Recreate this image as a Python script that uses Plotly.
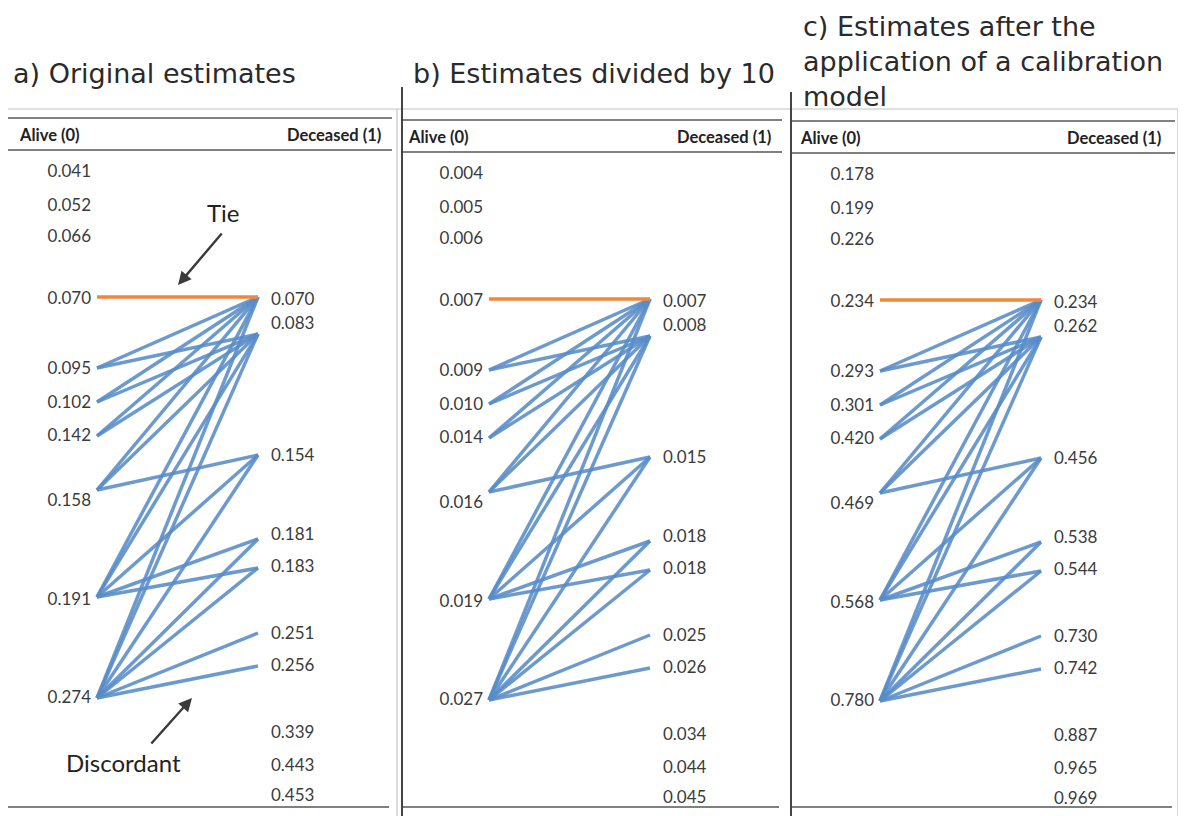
import plotly.graph_objects as go

# ---------------- data ----------------
PANEL_TITLES = [
    ["a) Original estimates"],
    ["b) Estimates divided by 10"],
    ["c) Estimates after the", "application of a calibration", "model"],
]
HEADER_ALIVE = "Alive (0)"
HEADER_DECEASED = "Deceased (1)"

ALIVE_A = [0.041, 0.052, 0.066, 0.070, 0.095, 0.102, 0.142, 0.158, 0.191, 0.274]
DECEASED_A = [0.070, 0.083, 0.154, 0.181, 0.183, 0.251, 0.256, 0.339, 0.443, 0.453]

ALIVE_B = [0.004, 0.005, 0.006, 0.007, 0.009, 0.010, 0.014, 0.016, 0.019, 0.027]
DECEASED_B = [0.007, 0.008, 0.015, 0.018, 0.018, 0.025, 0.026, 0.034, 0.044, 0.045]

ALIVE_C = [0.178, 0.199, 0.226, 0.234, 0.293, 0.301, 0.420, 0.469, 0.568, 0.780]
DECEASED_C = [0.234, 0.262, 0.456, 0.538, 0.544, 0.730, 0.742, 0.887, 0.965, 0.969]

# ---------------- layout constants (row placement of the table) ----------------
W, H = 1186, 816
PAGE_MARGIN = 8  # default body margin of the html page
ALIVE_LABEL_Y = [173, 207, 238, 300, 370, 404, 437, 502, 601, 699]
ALIVE_END_Y = [173, 207, 238, 297, 368, 402, 436, 490, 597, 698]
DEC_LABEL_Y = [301, 325, 457, 536, 568, 635, 667, 734, 767, 797]
DEC_END_Y = [297, 334, 455, 539, 568, 633, 666, 734, 767, 797]
PANEL_DX = [0, 392, 783]
PANEL_DY = [0, 2, 3]
ALIVE_LABEL_X = 91
ALIVE_END_X = 97
DEC_END_X = 258
DEC_LABEL_X = 271

BLUE = "rgba(88,140,200,0.88)"
ORANGE = "#f2873a"
TXT = "#3b3b3b"
FONT = "Lato"
TITLE_FONT = "DejaVu Sans"

fig = go.Figure()

panels = [(ALIVE_A, DECEASED_A), (ALIVE_B, DECEASED_B), (ALIVE_C, DECEASED_C)]
for p, (alive, dec) in enumerate(panels):
    dx, dy = PANEL_DX[p], PANEL_DY[p]
    bx, by, tx, ty = [], [], [], []
    for i, a in enumerate(alive):
        for j, d in enumerate(dec):
            x0, y0 = dx + ALIVE_END_X, ALIVE_END_Y[i] + dy
            x1, y1 = dx + DEC_END_X, DEC_END_Y[j] + dy
            if a > d:
                bx += [x0, x1, None]
                by += [y0, y1, None]
            elif a == d:
                tx += [x0, x1, None]
                ty += [y0, y1, None]
    fig.add_trace(go.Scatter(x=bx, y=by, mode="lines",
                             line=dict(color=BLUE, width=3.5), hoverinfo="skip"))
    fig.add_trace(go.Scatter(x=tx, y=ty, mode="lines",
                             line=dict(color=ORANGE, width=3.5), hoverinfo="skip"))
    # value labels
    fig.add_trace(go.Scatter(
        x=[dx + ALIVE_LABEL_X] * len(alive),
        y=[v + dy for v in ALIVE_LABEL_Y],
        mode="text", text=[f"{v:.3f}" for v in alive],
        textposition="middle left",
        textfont=dict(family=FONT, size=17, color=TXT), hoverinfo="skip"))
    fig.add_trace(go.Scatter(
        x=[dx + DEC_LABEL_X] * len(dec),
        y=[v + dy for v in DEC_LABEL_Y],
        mode="text", text=[f"{v:.3f}" for v in dec],
        textposition="middle right",
        textfont=dict(family=FONT, size=17, color=TXT), hoverinfo="skip"))
    # headers
    fig.add_annotation(x=dx + 17 - (3 if p == 1 else 0) - (2 if p == 2 else 0), y=135 + dy,
                       text=f"<b>{HEADER_ALIVE}</b>", showarrow=False,
                       xanchor="left", yanchor="middle",
                       font=dict(family=FONT, size=16.5, color="#222"))
    fig.add_annotation(x=dx + 383 - (2 if p == 1 else 0) - (3 if p == 2 else 0), y=135 + dy,
                       text=f"<b>{HEADER_DECEASED}</b>", showarrow=False,
                       xanchor="right", yanchor="middle",
                       font=dict(family=FONT, size=16.5, color="#222"))

# table rules
RULES = [(8, 392), (403, 782), (792, 1175)]
for p, (x0, x1) in enumerate(RULES):
    for yy in (118, 150):
        fig.add_shape(type="line", x0=x0, x1=x1, y0=yy + PANEL_DY[p], y1=yy + PANEL_DY[p],
                      line=dict(color="#808080", width=2))
    fig.add_shape(type="line", x0=x0, x1=x1 - 3, y0=807, y1=807,
                  line=dict(color="#808080", width=2))

# thin frame lines
fig.add_shape(type="line", x0=0, x1=1178, y0=109, y1=109, line=dict(color="#c4c4c4", width=1.2))
fig.add_shape(type="line", x0=397, x1=397, y0=109, y1=H, line=dict(color="#c4c4c4", width=1.2))
fig.add_shape(type="line", x0=1178, x1=1178, y0=109, y1=H, line=dict(color="#c4c4c4", width=1.2))
# dark separators
fig.add_shape(type="line", x0=402, x1=402, y0=87, y1=H, line=dict(color="#444", width=2))
fig.add_shape(type="line", x0=791, x1=791, y0=92, y1=H, line=dict(color="#444", width=2))

# panel titles (multi-line titles as one text block)
TITLE_X = [11, 411, 801]
TITLE_Y = [73, 73, 61]
for p, lines in enumerate(PANEL_TITLES):
    fig.add_annotation(x=TITLE_X[p], y=TITLE_Y[p], text="<br>".join(lines), showarrow=False,
                       xanchor="left", yanchor="middle", align="left",
                       font=dict(family=TITLE_FONT, size=27, color="#2a2a2a"))

# callouts
fig.add_annotation(x=178, y=285, ax=223, ay=232, axref="x", ayref="y", xref="x", yref="y",
                   showarrow=True, arrowhead=2, arrowsize=1.1, arrowwidth=2.4,
                   arrowcolor="#3a3a3a", text="")
fig.add_annotation(x=223, y=212, text="Tie", showarrow=False,
                   font=dict(family=FONT, size=24, color="#222"))
fig.add_annotation(x=192, y=698, ax=150, ay=745, axref="x", ayref="y", xref="x", yref="y",
                   showarrow=True, arrowhead=2, arrowsize=1.1, arrowwidth=2.4,
                   arrowcolor="#3a3a3a", text="")
fig.add_annotation(x=123, y=762, text="Discordant", showarrow=False,
                   font=dict(family=FONT, size=24, color="#222"))

fig.update_layout(
    width=W - PAGE_MARGIN, height=H - PAGE_MARGIN, margin=dict(l=0, r=0, t=0, b=0),
    paper_bgcolor="white", plot_bgcolor="white", showlegend=False,
    xaxis=dict(range=[PAGE_MARGIN, W], visible=False, fixedrange=True),
    yaxis=dict(range=[H, PAGE_MARGIN], visible=False, fixedrange=True),
)
fig.write_html("out.html")
